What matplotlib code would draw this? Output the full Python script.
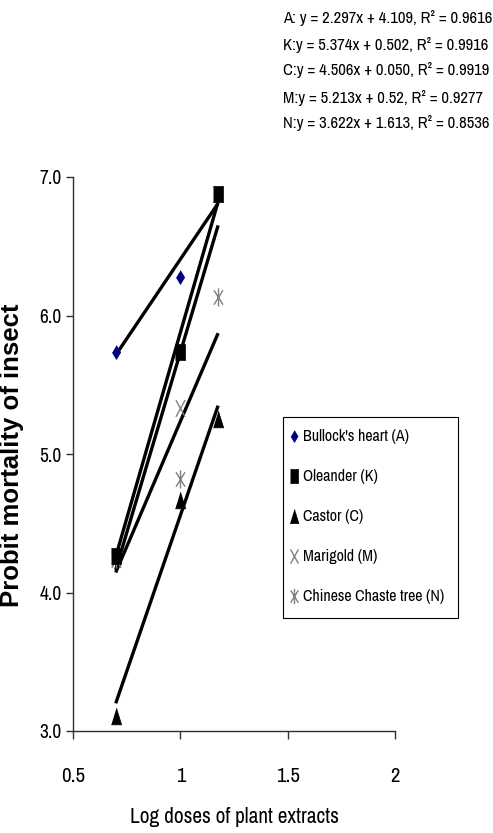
import numpy as np
import matplotlib
matplotlib.use("Agg")
from matplotlib import pyplot as plt
from matplotlib.path import Path
from matplotlib.patches import Rectangle

# log doses (log of 5, 10, 15)
log_dose = [0.699, 1.0, 1.176]

species = ["Bullock's heart (A)", "Oleander (K)", "Castor (C)",
           "Marigold (M)", "Chinese Chaste tree (N)"]
probit = {
    "A": [5.74, 6.28, 6.88],
    "K": [4.26, 5.74, 6.88],
    "C": [3.11, 4.67, 5.25],
    "M": [4.24, 5.33, 6.88],
    "N": [4.24, 4.82, 6.13],
}
slopes = [2.297, 5.374, 4.506, 5.213, 3.622]
intercepts = [4.109, 0.502, 0.050, 0.52, 1.613]
eq_text = [
    "A: y = 2.297x + 4.109, R\u00b2 = 0.9616",
    "K:y = 5.374x + 0.502, R\u00b2 = 0.9916",
    "C:y = 4.506x + 0.050, R\u00b2 = 0.9919",
    "M:y = 5.213x + 0.52, R\u00b2 = 0.9277",
    "N:y = 3.622x + 1.613, R\u00b2 = 0.8536",
]

plt.rcParams["font.family"] = ["Archivo Narrow", "Liberation Sans", "DejaVu Sans"]

# the original is stretched vertically, so the markers are tall and narrow
tall_diamond = [(0, 1), (0.6, 0), (0, -1), (-0.6, 0)]
tall_square = [(-0.62, -1), (0.62, -1), (0.62, 1), (-0.62, 1)]
tall_triangle = [(0, 1), (0.62, -1), (-0.62, -1)]
M, L = Path.MOVETO, Path.LINETO
tall_x = Path([(-0.55, -1), (0.55, 1), (-0.55, 1), (0.55, -1)], [M, L, M, L])
tall_star = Path([(-0.5, -0.8), (0.5, 0.8), (-0.5, 0.8), (0.5, -0.8), (0, -1), (0, 1)],
                 [M, L, M, L, M, L])

styles = {
    "A": dict(marker=tall_diamond, color="#000080", ms=10, mec="#000080", mew=0.5),
    "K": dict(marker=tall_square, color="black", ms=12, mec="black", mew=0.5),
    "C": dict(marker=tall_triangle, color="black", ms=12, mec="black", mew=0.5),
    "M": dict(marker=tall_x, color="#808080", ms=12, mew=1.0, mfc="none"),
    "N": dict(marker=tall_star, color="#808080", ms=13, mew=1.0, mfc="none"),
}
zorders = {"A": 3, "M": 4, "N": 4, "C": 5, "K": 6}

fig = plt.figure(figsize=(4.93, 8.33), dpi=100)
ax = fig.add_axes([73 / 493, 1 - 731 / 833, 322 / 493, 554 / 833])

xs = np.array([min(log_dose), max(log_dose)])
for m, b in zip(slopes, intercepts):
    ax.plot(xs, m * xs + b, color="black", lw=2.4, solid_capstyle="butt", zorder=2)

handles = []
for key, label in zip(probit, species):
    h, = ax.plot(log_dose, probit[key], linestyle="none", label=label,
                 zorder=zorders[key], **styles[key])
    handles.append(h)

ax.set_xlim(0.5, 2)
ax.set_ylim(3, 7)
ax.set_xticks([0.5, 1, 1.5, 2])
ax.set_xticklabels(["0.5", "1", "1.5", "2"])
ax.set_yticks([3, 4, 5, 6, 7])
ax.set_yticklabels([f"{v:.1f}" for v in [3, 4, 5, 6, 7]])
ax.spines["top"].set_visible(False)
ax.spines["right"].set_visible(False)
for s in ("left", "bottom"):
    ax.spines[s].set_color("#303030")
    ax.spines[s].set_linewidth(1.0)
ax.tick_params(axis="x", direction="out", length=6, width=1, color="#303030",
               labelsize=15, pad=20)
ax.tick_params(axis="y", direction="out", length=5, width=1, color="#303030",
               labelsize=14, pad=3)

ax.set_xlabel("Log doses of plant extracts", fontsize=15.3, labelpad=15)
fig.text(12 / 493, 1 - 455 / 833, "Probit mortality of insect", rotation=90,
         ha="center", va="center", fontsize=18.5, fontweight="bold",
         family=["Liberation Sans", "DejaVu Sans"])

for i, t in enumerate(eq_text):
    y_px = [18, 45, 70, 98, 123][i]
    fig.text(283 / 493, 1 - y_px / 833, t, ha="left", va="center", fontsize=12)

# legend box drawn separately, entries placed inside it
fig.patches.append(Rectangle((283 / 493, 1 - 618 / 833), 175 / 493, 201 / 833,
                             transform=fig.transFigure, fill=False,
                             edgecolor="black", linewidth=0.8))
leg = fig.legend(handles=handles, loc="upper left",
                 bbox_to_anchor=(283 / 493, 1 - 422 / 833),
                 bbox_transform=fig.transFigure, borderaxespad=0,
                 frameon=False, fontsize=11.5, handlelength=0.5,
                 handletextpad=0.3, labelspacing=1.57, borderpad=0.45,
                 markerscale=0.85)

plt.savefig("out.png", dpi=100)
